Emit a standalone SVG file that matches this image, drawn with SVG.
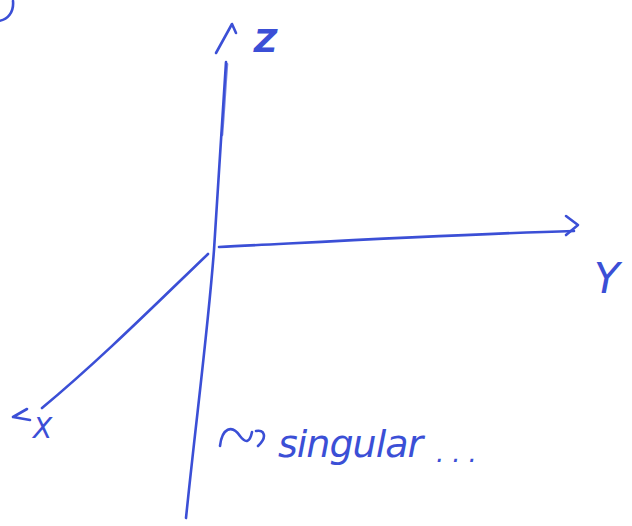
<svg xmlns="http://www.w3.org/2000/svg" width="632" height="526" viewBox="0 0 632 526">
<style>
.ink{fill:none;stroke:#3b4fd6;stroke-width:2.6;stroke-linecap:round;stroke-linejoin:round}
.lbl{fill:#3b4fd6;font-family:"DejaVu Sans",sans-serif;font-style:italic}
</style>
<rect width="632" height="526" fill="#fff"/>
<path class="ink" d="M-2,21 C8,20 14,12 13,1"/>
<g id="connectors">
<path class="ink" d="M226,62 C222,120 218,190 214,250 C208,330 196,420 186,518" stroke-width="3.4"/>
<path class="ink" d="M227,64 C225,90 224,110 222,135" stroke-width="6" opacity="0.7"/>
<path class="ink" d="M216,53 L232,24 L236,33"/>
<path class="ink" d="M219,247 C320,242 460,234 574,231"/>
<path class="ink" d="M566,216 L578,225 L566,235"/>
<path class="ink" d="M208,254 C160,300 100,360 42,408" stroke-width="2"/>
<path class="ink" d="M27,409 L13,417 L30,420" stroke-width="2"/>
</g>
<g id="z-label"><text class="lbl" x="254" y="52" font-size="32" font-weight="bold">Z</text></g>
<g id="y-label"><text class="lbl" x="594" y="293" font-size="42">Y</text></g>
<g id="x-label"><text class="lbl" x="33" y="438" font-size="28">X</text></g>
<g id="note">
<path class="ink" d="M220,446 C222,428 232,424 240,436 C246,444 250,442 252,432 M256,431 C264,429 268,437 258,446"/>
<text class="lbl" x="278" y="457" font-size="38" letter-spacing="-1">singular</text>
<text class="lbl" x="436" y="462" font-size="26" letter-spacing="8">...</text>
</g>
</svg>
